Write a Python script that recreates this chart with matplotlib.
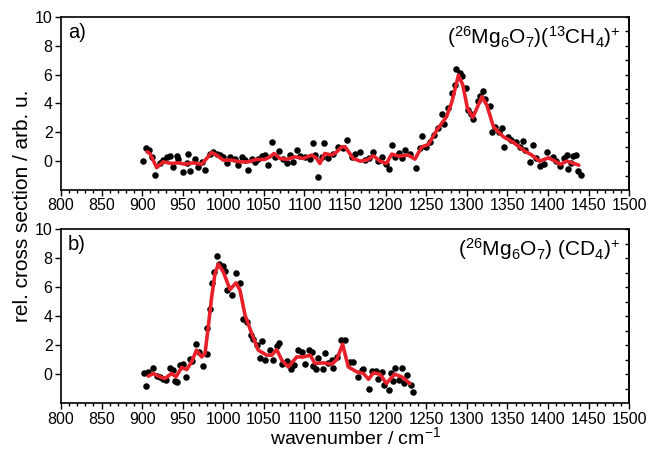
import matplotlib
matplotlib.use("Agg")
import matplotlib.pyplot as plt
from matplotlib.ticker import MultipleLocator

# ---------------- data ----------------
a_pts_x = [901.5, 904.8, 908.8, 912, 915.8, 922, 926, 930.2, 934.3, 938.4, 942.6, 944.6, 950.8, 955, 957,
           959, 965, 969, 973.4, 977.5, 983.6, 987.7, 991.9, 996, 1000, 1004.2, 1008.3, 1014.5, 1018.6,
           1022.7, 1026.8, 1030.8, 1035, 1039, 1043, 1047.4, 1051.4, 1055.5, 1059.7, 1063.7, 1069, 1074,
           1078, 1082.2, 1086.3, 1090.5, 1094.6, 1100.7, 1107, 1110, 1113, 1116.4, 1121.3, 1124.5, 1129.5,
           1135.6, 1141.7, 1148, 1152, 1158, 1162, 1169, 1175, 1180, 1184, 1190, 1195, 1200, 1204.6, 1207.5,
           1212, 1217, 1220, 1224, 1230, 1237.5, 1242, 1245, 1250, 1255, 1260, 1265, 1269, 1272, 1277,
           1281.5, 1285, 1286.4, 1291, 1294, 1299, 1302, 1305, 1308, 1313.5, 1316, 1319.7, 1322, 1328.7,
           1330.8, 1335, 1340, 1343, 1346, 1351, 1355, 1360, 1365, 1369, 1372, 1378, 1381, 1385, 1390,
           1395, 1398.6, 1406.7, 1410, 1415, 1420, 1423, 1425, 1428, 1431, 1434, 1437.5, 1440.5]
a_pts_y = [0.0, 0.92, 0.76, 0.3, -0.97, -0.16, 0.07, 0.26, 0.35, -0.4, 0.35, 0.12, -0.74, -0.12, 0.47,
           -0.67, 0.12, -0.4, -0.05, -0.63, 0.53, 0.65, 0.53, 0.4, 0.26, -0.12, 0.26, 0.12, -0.28,
           0.26, 0.07, -0.58, 0.12, -0.05, 0.12, 0.35, 0.42, -0.28, 1.34, 0.3, 0.72, 0.12,
           -0.12, 0.42, -0.05, 0.76, 0.35, 0.3, 0.12, 1.23, 0.42, -1.09, 0.3, 1.23, 0.19,
           0.53, 0.99, 0.88, 1.46, 0.3, 0.5, 0.6, 0.1, 0.2, 0.65, 0.0, 0.3, -0.2, -0.56, 1.11,
           0.3, 0.58, 0.2, 0.76, 0.5, -0.46, 0.9, 1.76, 1.0, 1.3, 1.8, 2.3, 3.3, 2.57, 3.7,
           4.74, 5.3, 6.37, 6.09, 5.9, 5.05, 3.54, 3.3, 2.92, 4.17, 4.5, 4.86, 4.3, 3.84,
           2.03, 2.4, 2.0, 2.27, 0.95, 1.69, 1.5, 1.3, 1.0, 1.39, 0.8, -0.09, 1.11, 0.2, -0.35,
           -0.2, 0.65, 0.3, 0.0, -0.35, 0.2, 0.42, -0.51, -0.1, 0.35, 0.4, -0.7, -0.97]

a_fit_x = [906, 909.7, 918, 926, 936.4, 944.6, 952.8, 963, 973.4, 979.6, 985.7, 991.9, 1000, 1010.4,
           1020.6, 1030.8, 1041, 1051, 1057.6, 1062.5, 1070, 1078, 1088, 1098.6, 1109, 1115, 1119, 1125,
           1133.6, 1139.8, 1146, 1150, 1160, 1168.5, 1176.7, 1185, 1193, 1201, 1207.5, 1215.7, 1228, 1236,
           1244.5, 1252.7, 1263, 1275, 1281.5, 1289.7, 1295, 1300.8, 1307.4, 1312.3, 1318.5, 1324.6,
           1332.8, 1345, 1357.4, 1369.7, 1380, 1389.5, 1400.6, 1408.8, 1415, 1423, 1435.6, 1438]
a_fit_y = [0.65, 0.53, -0.45, -0.05, -0.16, -0.12, -0.21, -0.12, -0.21, 0.19, 0.6, 0.42, 0.07, 0.07,
           -0.05, -0.05, 0.12, 0.12, 0.3, 0.53, 0.19, 0.12, 0.3, 0.19, 0.42, 0.19, -0.16, 0.53,
           0.42, 0.65, 0.99, 1.0, 0.19, 0.0, 0.07, 0.37, 0.0, -0.16, 0.49, 0.35, 0.42, 0.14,
           0.99, 1.16, 2.15, 3.08, 4.1, 5.97, 5.28, 3.66, 3.03, 3.66, 4.47, 3.89,
           2.38, 1.69, 1.3, 0.76, 0.42, 0.0, 0.23, 0.0, -0.23, 0.0, -0.23, -0.28]

b_pts_x = [902.3, 904.8, 907.6, 913.8, 918, 922, 926, 930, 934.3, 937.6, 940.5, 943.3, 946.6, 949.9,
           954, 959, 962, 966.4, 970, 974.6, 979.6, 980.3, 983.6, 985.7, 988.5, 991.9, 995, 999.3,
           1002, 1004.2, 1010.4, 1015.7, 1020.6, 1024.7, 1029.6, 1033.8, 1037, 1041, 1045.3, 1048,
           1051.5, 1057.6, 1060.9, 1065.8, 1069, 1072, 1078, 1083, 1087, 1092.5, 1096.6, 1100.7, 1106,
           1109, 1111, 1114.3, 1117.2, 1122.6, 1125.4, 1129, 1133.6, 1135.6, 1140, 1144.8, 1150, 1156,
           1160.2, 1166.4, 1170.6, 1172.6, 1178.9, 1183, 1188, 1191, 1195, 1198, 1204.6, 1206.3,
           1209.6, 1212, 1217, 1220.3, 1222.7, 1226, 1231, 1234.3]
b_pts_y = [0.09, -0.83, 0.16, 0.43, -0.1, -0.2, -0.3, -0.4, 0.46, 0.32, -0.46, -0.55, 0.62, 0.69,
           -0.18, 1.08, 0.9, 2.07, 1.5, 0.55, 1.36, 3.22, 4.53, 6.3, 7.06, 8.14, 7.6, 7.45,
           7.12, 5.79, 5.45, 7.0, 6.26, 3.84, 3.61, 2.69, 2.4, 2.0, 1.15, 2.3,
           1.01, 1.66, 1.01, 1.93, 2.16, 0.69, 0.92, 0.39, 0.6, 1.66, 1.54, 0.69, 1.66,
           1.54, 0.55, 0.39, 1.15, 0.39, 1.47, 0.8, 1.01, 0.43, 1.2, 2.34, 2.34, 0.85,
           0.85, -0.18, 0.32, 0.39, -0.99, 0.23, 0.23, -0.3, 0.16, -0.76, -1.06, 0.05,
           -0.48, 0.46, -0.41, 0.44, -0.6, -0.07, -0.76, -1.26]

b_fit_x = [907.6, 913.8, 920, 928, 936.4, 941.7, 948.7, 955, 961, 967, 973.4, 977.5, 981.5, 985.7,
           989.8, 993.9, 1000, 1008.3, 1015.7, 1020.6, 1026.8, 1035, 1043, 1053.5, 1059.7, 1065.8, 1072,
           1080, 1090.5, 1098.6, 1107, 1113, 1123, 1133.6, 1139.8, 1147, 1154, 1164.4, 1172.6, 1178.9,
           1185, 1193, 1201, 1211, 1219.6, 1230]
b_fit_y = [-0.14, 0.05, -0.14, -0.3, 0.05, -0.18, 0.46, 0.32, 0.85, 1.66, 1.19, 1.43, 3.26, 5.33,
           6.94, 7.59, 7.06, 5.84, 6.3, 5.79, 4.07, 2.81, 1.66, 1.31, 1.31, 1.7, 0.97,
           0.5, 1.19, 1.19, 1.31, 0.74, 0.78, 0.69, 1.01, 2.07, 0.5, 0.16, 0.05, -0.35,
           0.09, 0.0, -0.64, 0.0, -0.18, -0.64]

panel_labels = ["a)", "b)"]
species = [r"$(^{26}\mathregular{Mg}_6\mathregular{O}_7)(^{13}\mathregular{CH}_4)^{+}$",
           r"$(^{26}\mathregular{Mg}_6\mathregular{O}_7)\ (\mathregular{CD}_4)^{+}$"]
x_ticks = [800, 850, 900, 950, 1000, 1050, 1100, 1150, 1200, 1250, 1300, 1350, 1400, 1450, 1500]
y_ticks = [0, 2, 4, 6, 8, 10]

# ---------------- style ----------------
plt.rcParams["font.family"] = ["Liberation Sans", "DejaVu Sans"]
plt.rcParams["mathtext.fontset"] = "custom"
plt.rcParams["mathtext.rm"] = "Liberation Sans"
plt.rcParams["mathtext.it"] = "Liberation Sans:italic"
plt.rcParams["mathtext.bf"] = "Liberation Sans:bold"

fig = plt.figure(figsize=(6.48, 4.53), dpi=100)
ax_a = fig.add_axes([0.094, 0.5806, 0.877, 0.382])
ax_b = fig.add_axes([0.094, 0.110, 0.877, 0.384])

data = [(a_pts_x, a_pts_y, a_fit_x, a_fit_y), (b_pts_x, b_pts_y, b_fit_x, b_fit_y)]
red = "#e8202a"
for ax, (px, py, fx, fy), lab, sp in zip([ax_a, ax_b], data, panel_labels, species):
    ax.scatter(px, py, s=22, color="black", zorder=2, linewidths=0)
    ax.plot(fx, fy, color=red, lw=2.6, zorder=3, solid_joinstyle="round", solid_capstyle="round")
    ax.set_xlim(800, 1500)
    ax.set_ylim(-2, 10)
    ax.set_xticks(x_ticks)
    ax.set_yticks(y_ticks)
    ax.xaxis.set_minor_locator(MultipleLocator(10))
    ax.tick_params(axis="both", which="major", direction="out", length=4, width=1.0,
                   labelsize=11.5, pad=2)
    ax.tick_params(axis="x", which="minor", direction="out", length=2.5, width=1.0)
    ax.tick_params(top=False, right=False)
    for s in ax.spines.values():
        s.set_linewidth(1.2)
    sec = ax.secondary_yaxis("right")
    sec.set_yticks(range(-1, 11))
    sec.tick_params(direction="in", length=3, width=1.0, labelright=False)
    sec.spines["right"].set_linewidth(1.2)
    ax.text(0.012, 0.965, lab, transform=ax.transAxes, ha="left", va="top", fontsize=14.5)
    ax.text(0.985, 0.96, sp, transform=ax.transAxes, ha="right", va="top", fontsize=15)

fig.text(0.548, 0.035, r"wavenumber / cm$^{\mathregular{-1}}$", ha="center", va="center", fontsize=14)
fig.text(0.035, 0.545, "rel. cross section / arb. u.", ha="center", va="center", rotation=90, fontsize=15)

fig.savefig("out.png", dpi=100)
